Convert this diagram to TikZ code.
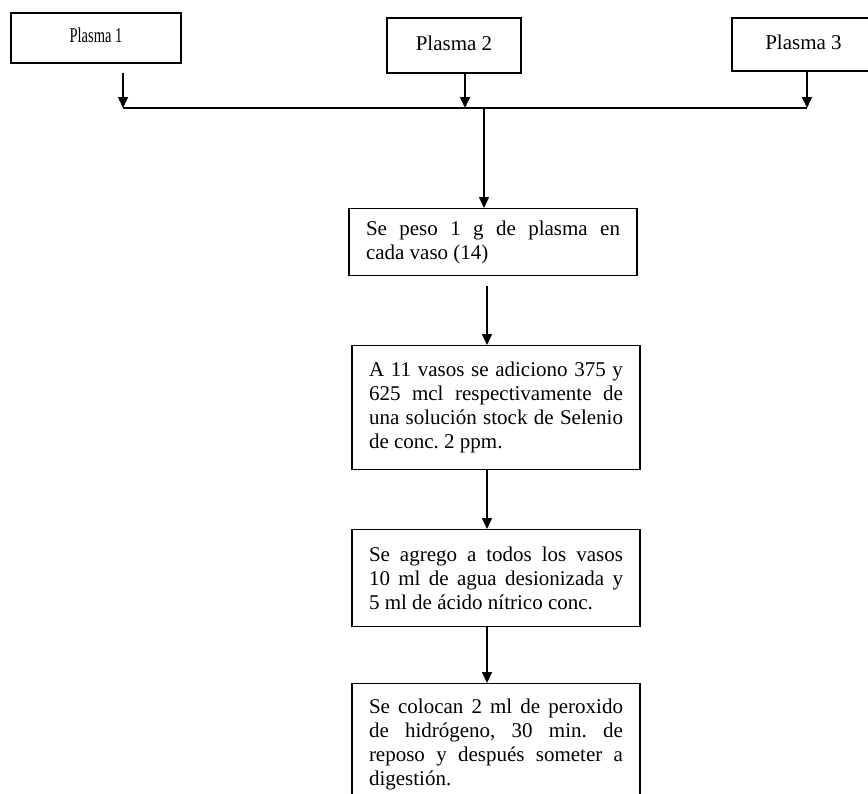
\documentclass[tikz,border=0pt]{standalone}
\usepackage{fontspec}
\setmainfont{Liberation Serif}
\usepackage{graphicx}
\usetikzlibrary{arrows.meta}
\frenchspacing
\tikzset{
  plasmabox/.style={draw, line width=1.4pt, inner sep=0pt, text height=14pt, text depth=5pt,
    font=\fontsize{21}{24}\selectfont},
  stepbox/.style={draw, line width=1.4pt, anchor=north, inner xsep=17pt, inner ysep=0pt,
    text width=254pt, align=justify, font=\fontsize{21}{24}\selectfont},
  conn/.style={line width=1.4pt},
  arr/.style={line width=1.4pt, -{Triangle[length=11pt,width=10pt]}}
}
\begin{document}
\begin{tikzpicture}[x=1pt,y=-1pt]
\clip (0,0) rectangle (868,793);
\fill[white] (0,0) rectangle (868,793);
% top boxes
\node[plasmabox, minimum width=170pt, minimum height=50pt] (p1) at (96,38) {\scalebox{0.69}[1]{Plasma 1}};
\node[plasmabox, minimum width=134pt, minimum height=55pt] (p2) at (454,45.5) {Plasma 2};
\node[plasmabox, minimum width=143pt, minimum height=53pt] (p3) at (803.5,44.5) {Plasma 3};
% collector line
\coordinate (h1) at (123,108);
\coordinate (h2) at (465,108);
\coordinate (h3) at (807,108);
\coordinate (hj) at (484,108);
\draw[conn] (h1) -- (h3);
\draw[arr] ([yshift=-9pt]p1.south -| h1) -- (h1);
\draw[arr] (p2.south -| h2) -- (h2);
\draw[arr] (p3.south -| h3) -- (h3);
% steps
\node[stepbox, minimum height=67pt] (b1) at (493,208)
  {Se peso 1 g de plasma en\linebreak cada vaso (14)};
\node[stepbox, minimum height=124pt] (b2) at (496,345)
  {A 11 vasos se adiciono 375 y\linebreak 625 mcl respectivamente de\linebreak una solución stock de Selenio\linebreak de conc. 2 ppm.};
\node[stepbox, minimum height=97pt] (b3) at (496,529)
  {Se agrego a todos los vasos\linebreak 10 ml de agua desionizada y\linebreak 5 ml de ácido nítrico conc.};
\node[stepbox, minimum height=122pt] (b4) at (496,683)
  {Se colocan 2 ml de peroxido\linebreak de hidrógeno, 30 min. de\linebreak reposo y después someter a\linebreak digestión.};
\coordinate (ax) at (487,0);
\draw[arr] (hj) -- (b1.north -| hj);
\draw[arr] ([yshift=-10pt]b1.south -| ax) -- (b2.north -| ax);
\draw[arr] (b2.south -| ax) -- (b3.north -| ax);
\draw[arr] (b3.south -| ax) -- (b4.north -| ax);
\end{tikzpicture}
\end{document}
